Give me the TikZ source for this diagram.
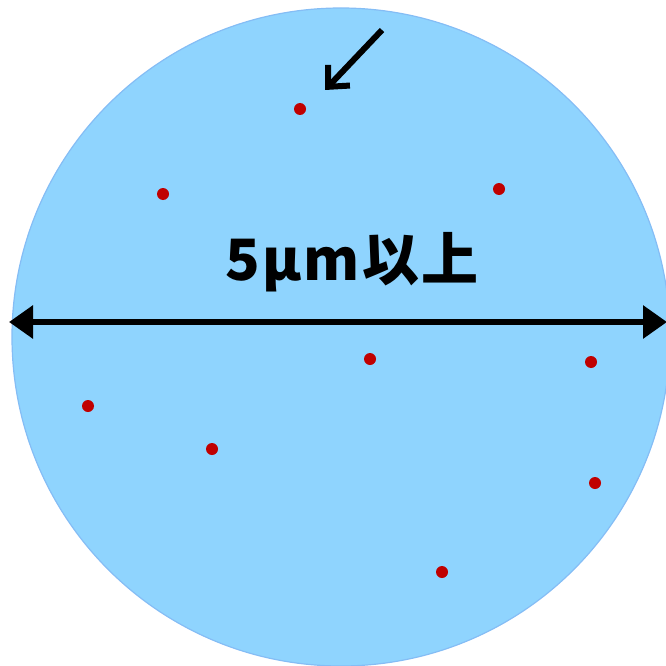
\documentclass[tikz,border=0pt]{standalone}
\usepackage{fontspec}
\newfontfamily\cjk[LetterSpace=4]{Noto Sans CJK JP}
\usetikzlibrary{arrows.meta}
\definecolor{cellblue}{HTML}{8FD4FE}
\definecolor{celledge}{HTML}{85BDF5}
\definecolor{dotred}{HTML}{C00000}
\tikzset{
  dotmark/.style={circle,fill=dotred,inner sep=0pt,minimum size=12pt},
  bigarrow/.style={line width=6pt,{Triangle[length=24pt,width=32pt]}-{Triangle[length=24pt,width=32pt]}},
  ptrarrow/.style={line width=6pt,-{Straight Barb[length=16pt,width=30pt,line width=6pt]}}
}
\begin{document}
\begin{tikzpicture}[x=1pt,y=-1pt]
\useasboundingbox (0,0) rectangle (666,666);
\node[circle,fill=cellblue,draw=celledge,line width=1.2pt,minimum size=658pt,inner sep=0pt] (cell) at (341,337) {};
\foreach \n/\x/\y in {a/300/109,b/163/194,c/499/189,d/370/359,e/591/362,f/88/406,g/212/449,h/595/483,i/442/572}
  \node[dotmark] (\n) at (\x,\y) {};
\coordinate (L) at (9,322);
\coordinate (R) at (667,322);
\draw[bigarrow] (L) -- (R);
\coordinate (ps) at (382,30);
\coordinate (pe) at (325,90);
\draw[ptrarrow] (ps) -- (pe);
\node[font=\cjk\bfseries\fontsize{57}{60}\selectfont] (lbl) at (352,262) {5μm以上};
\end{tikzpicture}
\end{document}
